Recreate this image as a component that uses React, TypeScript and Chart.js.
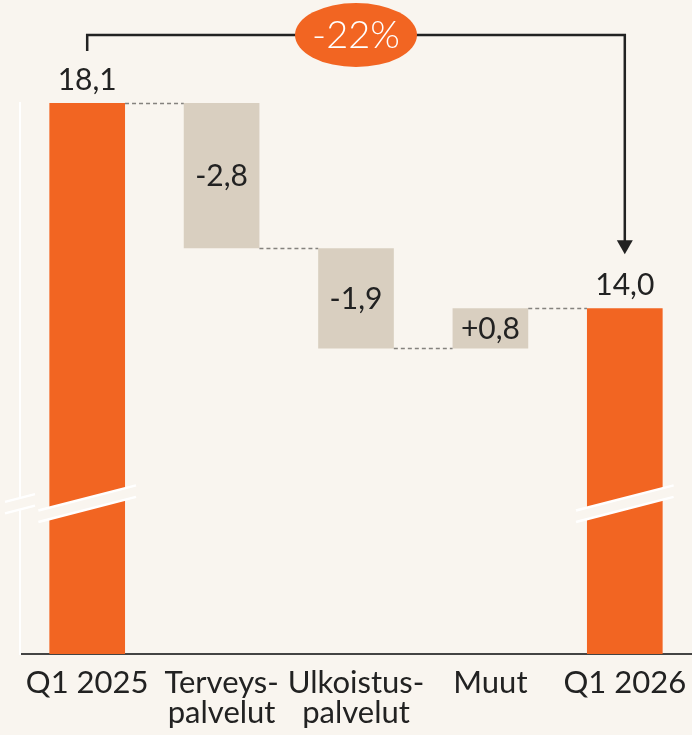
import React, { useEffect, useRef } from "react";
import { Chart, registerables } from "chart.js";

Chart.register(...registerables);

const categories: string[][] = [
  ["Q1 2025"],
  ["Terveys-", "palvelut"],
  ["Ulkoistus-", "palvelut"],
  ["Muut"],
  ["Q1 2026"],
];
const barStart = [7.1, 15.2, 13.2, 13.2, 7.1];
const barEnd = [18.1, 18.1, 15.2, 14.0, 14.0];
const isTotal = [true, false, false, false, true];
const valueLabels = ["18,1", "-2,8", "-1,9", "+0,8", "14,0"];
const changeLabel = "-22%";
const axisMin = 7.1;
const axisMax = 18.1;
const breakValue = 10.1;

const BG = "#F9F5EF";
const ORANGE = "#F26522";
const BEIGE = "#D9CFC0";
const TEXT = "#222222";
const FONT = "Lato, 'Open Sans', sans-serif";

function sharedLevel(i: number): number {
  const a = [barStart[i], barEnd[i]];
  const b = [barStart[i + 1], barEnd[i + 1]];
  for (const v of a) if (b.some((w) => Math.abs(w - v) < 1e-9)) return v;
  return barEnd[i];
}

const decorPlugin = {
  id: "waterfallDecor",
  beforeDraw(chart: any) {
    const ctx = chart.ctx;
    ctx.save();
    ctx.fillStyle = BG;
    ctx.fillRect(0, 0, chart.width, chart.height);
    ctx.restore();
  },
  afterDraw(chart: any) {
    const ctx: CanvasRenderingContext2D = chart.ctx;
    const meta = chart.getDatasetMeta(0);
    const yScale = chart.scales.y;
    const area = chart.chartArea;
    const bars = meta.data as any[];

    ctx.save();
    // connectors
    ctx.strokeStyle = "#85827E";
    ctx.lineWidth = 1.5;
    ctx.setLineDash([4, 3]);
    for (let i = 0; i < bars.length - 1; i++) {
      const lvl = Math.round(yScale.getPixelForValue(sharedLevel(i))) + 0.5;
      const x1 = bars[i].x + bars[i].width / 2;
      const x2 = bars[i + 1].x - bars[i + 1].width / 2;
      ctx.beginPath();
      ctx.moveTo(x1, lvl);
      ctx.lineTo(x2, lvl);
      ctx.stroke();
    }
    ctx.setLineDash([]);

    // break marks
    const yb = yScale.getPixelForValue(breakValue);
    const slope = 0.258;
    const gap = 11.5;
    const drawBreak = (cx: number, half: number) => {
      const xl = cx - half;
      const xr = cx + half;
      const yl = yb + half * slope;
      const yr = yb - half * slope;
      ctx.beginPath();
      ctx.moveTo(xl, yl - gap / 2);
      ctx.lineTo(xr, yr - gap / 2);
      ctx.lineTo(xr, yr + gap / 2);
      ctx.lineTo(xl, yl + gap / 2);
      ctx.closePath();
      ctx.fillStyle = BG;
      ctx.fill();
      ctx.strokeStyle = "#FFFFFF";
      ctx.lineWidth = 2.5;
      ctx.beginPath();
      ctx.moveTo(xl, yl - gap / 2);
      ctx.lineTo(xr, yr - gap / 2);
      ctx.moveTo(xl, yl + gap / 2);
      ctx.lineTo(xr, yr + gap / 2);
      ctx.stroke();
    };
    drawBreak(area.left, 15);
    bars.forEach((b, i) => {
      if (isTotal[i]) drawBreak(b.x, b.width / 2 + 11);
    });

    // value labels
    ctx.fillStyle = TEXT;
    ctx.font = `30px ${FONT}`;
    ctx.textAlign = "center";
    bars.forEach((b, i) => {
      if (isTotal[i]) {
        ctx.textBaseline = "alphabetic";
        ctx.fillText(valueLabels[i], b.x, b.y - 13);
      } else {
        ctx.textBaseline = "middle";
        ctx.fillText(valueLabels[i], b.x, (b.y + b.base) / 2 + 1);
      }
    });

    // bracket with arrow
    const first = bars[0];
    const last = bars[bars.length - 1];
    const topY = area.top - 68;
    ctx.strokeStyle = "#222222";
    ctx.lineWidth = 2.5;
    ctx.lineJoin = "miter";
    const tipY = last.y - 54;
    ctx.beginPath();
    ctx.moveTo(first.x, area.top - 52);
    ctx.lineTo(first.x, topY);
    ctx.lineTo(last.x, topY);
    ctx.lineTo(last.x, tipY - 12);
    ctx.stroke();
    ctx.fillStyle = "#222222";
    ctx.beginPath();
    ctx.moveTo(last.x - 8, tipY - 14);
    ctx.lineTo(last.x + 8, tipY - 14);
    ctx.lineTo(last.x, tipY);
    ctx.closePath();
    ctx.fill();

    // ellipse badge
    const cx = (first.x + last.x) / 2;
    ctx.fillStyle = ORANGE;
    ctx.beginPath();
    ctx.ellipse(cx, topY, 61, 32, 0, 0, Math.PI * 2);
    ctx.fill();
    ctx.fillStyle = "#FFFFFF";
    ctx.font = `300 38px ${FONT}`;
    ctx.textAlign = "center";
    ctx.textBaseline = "middle";
    ctx.fillText(changeLabel, cx, topY + 1);
    ctx.restore();
  },
};

export default function App() {
  const ref = useRef<HTMLCanvasElement | null>(null);
  useEffect(() => {
    document.body.style.margin = "0";
    document.body.style.background = BG;
    const canvas = ref.current!;
    const chart = new Chart(canvas, {
      type: "bar",
      data: {
        labels: categories,
        datasets: [
          {
            data: barStart.map((s, i) => [s, barEnd[i]]) as any,
            backgroundColor: isTotal.map((t) => (t ? ORANGE : BEIGE)),
            borderWidth: 0,
            borderSkipped: false,
            categoryPercentage: 1,
            barPercentage: 0.563,
          },
        ],
      },
      options: {
        animation: false,
        responsive: false,
        events: [],
        layout: { padding: { top: 103, left: 20, right: -2, bottom: 0 } },
        plugins: { legend: { display: false }, tooltip: { enabled: false } },
        scales: {
          x: {
            grid: { display: false, drawTicks: true, tickLength: 14 },
            border: { display: true, color: "#444444", width: 2 },
            ticks: {
              color: TEXT,
              font: { family: FONT, size: 31, lineHeight: 0.97 },
              padding: 0,
              maxRotation: 0,
              autoSkip: false,
            },
            afterFit: (s: any) => {
              s.height = 81;
            },
          },
          y: {
            min: axisMin,
            max: axisMax,
            grid: { display: false, drawTicks: false },
            border: { display: true, color: "#FFFFFF", width: 2 },
            ticks: { display: false },
            afterFit: (s: any) => {
              s.width = 0;
            },
          },
        },
      },
      plugins: [decorPlugin],
    });
    return () => chart.destroy();
  }, []);
  return (
    <div style={{ position: "absolute", left: 0, top: 0, width: 692, height: 735, background: BG }}>
      <canvas ref={ref} width={692} height={735} style={{ display: "block" }} />
    </div>
  );
}
